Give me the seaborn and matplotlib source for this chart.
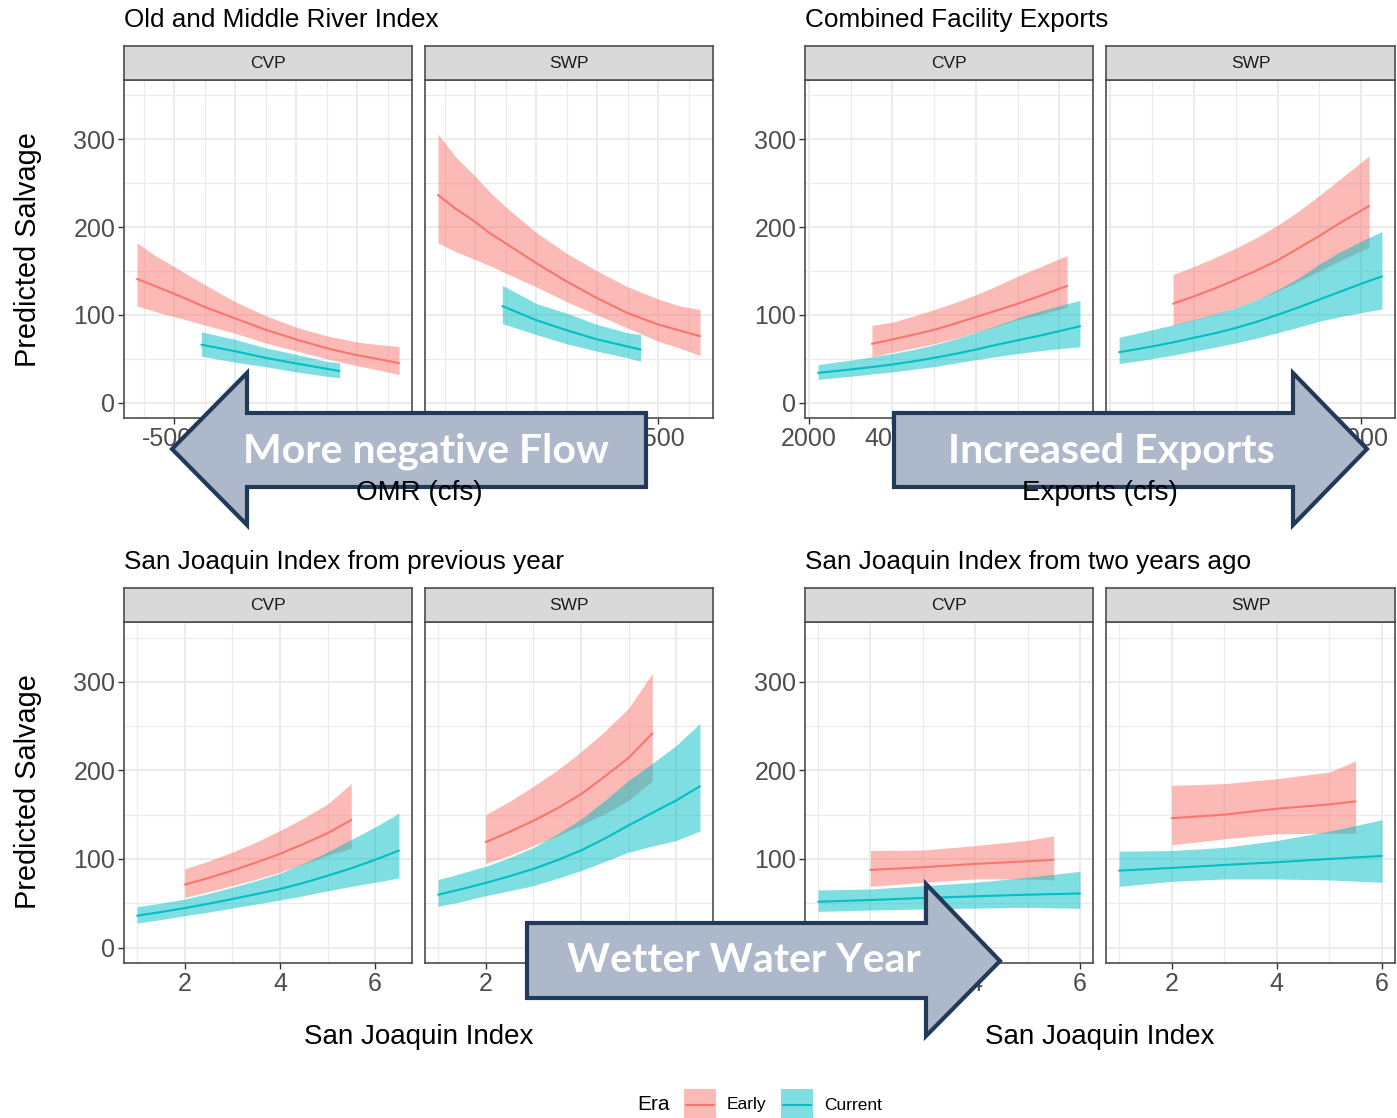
import numpy as np
import pandas as pd
import matplotlib
matplotlib.use("Agg")
import matplotlib.pyplot as plt
import seaborn as sns
from matplotlib.patches import Polygon, Rectangle
from matplotlib.lines import Line2D

# ---------------------------------------------------------------------------
# Model predictions (fit with lower / upper confidence bounds)
# ---------------------------------------------------------------------------
facilities = ["CVP", "SWP"]
eras = ["Early", "Current"]

# Old and Middle River index (cfs)
omr_early_x = [-6520, -5800, -5000, -4400, -3750, -2500, -1250, 0, 1250, 2500, 3400, 4220]
omr_current_x = [-3880, -2500, -1250, 0, 1250, 1780]
omr_cvp_early_fit = [141, 133, 124, 117, 109, 96, 83, 72, 62, 54, 49.5, 45]
omr_cvp_early_lo = [110, 104, 98, 93.5, 88.5, 79, 68, 59, 50, 42, 37, 32]
omr_cvp_early_hi = [182, 168, 155, 145, 134.5, 115, 99, 86, 76, 69, 66, 64]
omr_cvp_current_fit = [66, 58.6, 51, 44.6, 38.6, 36]
omr_cvp_current_lo = [53, 46, 41, 35, 30, 28.4]
omr_cvp_current_hi = [80.6, 72, 62.4, 55, 47, 45.4]
omr_swp_early_fit = [236.5, 221, 206, 193, 181.6, 159, 138, 119, 102, 89, 82, 75.7]
omr_swp_early_lo = [182, 172, 163, 156, 147.6, 132, 115, 100, 85, 70, 62, 53.7]
omr_swp_early_hi = [306, 280, 258, 240, 223, 194, 170, 150, 132, 118, 110, 106]
omr_swp_current_fit = [110, 94, 82.5, 72, 64, 60.5]
omr_swp_current_lo = [90, 77.6, 67, 58.6, 51, 47.3]
omr_swp_current_hi = [133.5, 113, 102, 89, 79.5, 77.6]

# Combined facility exports (cfs)
exp_early_x = [3510, 4000, 4500, 5000, 5500, 6000, 6500, 7000, 7500, 8185]
exp_current_x = [2220, 2600, 3000, 3500, 4000, 4500, 5000, 5500, 6000, 6500, 7000, 7500, 8000, 8490]
exp_cvp_early_fit = [67, 72, 77.3, 83, 90, 97.6, 105, 112.7, 121, 133]
exp_cvp_early_lo = [52, 57.5, 62, 67, 73, 80, 87, 94.6, 100, 108.6]
exp_cvp_early_hi = [88, 91.6, 98.5, 106, 114, 123, 133, 144, 154, 167.6]
exp_cvp_current_fit = [34, 35.8, 37.8, 40.5, 43.5, 47, 51, 55.5, 60.5, 66, 71, 76, 81.5, 87]
exp_cvp_current_lo = [26.5, 28.2, 30, 32.5, 35, 38, 41, 45, 49, 52.5, 56, 59, 61.5, 63.6]
exp_cvp_current_hi = [43.5, 45.8, 48.4, 52, 56, 60.5, 66, 72.5, 80, 88, 96.5, 104, 110.5, 116.5]
exp_swp_early_fit = [112.7, 121, 130, 140, 150.5, 162, 176, 190, 205, 224]
exp_swp_early_lo = [88, 94, 100.5, 108, 117, 127, 138, 150, 162, 177]
exp_swp_early_hi = [146, 155, 165, 176, 188, 202, 218, 236, 255, 281]
exp_swp_current_fit = [57.5, 60.5, 64, 68.6, 73.8, 79, 85, 92, 100, 108.5, 117.5, 126.5, 135.5, 143.8]
exp_swp_current_lo = [44.6, 47, 50, 54, 58.6, 63, 68, 73.5, 79.5, 86, 92.7, 98, 102.5, 106.7]
exp_swp_current_hi = [74.5, 78.5, 83, 88.5, 94.6, 101, 108, 117, 128.6, 142, 158, 172, 184, 195]

# San Joaquin Index, previous year
sj1_early_x = [2, 2.5, 3, 3.5, 4, 4.5, 5, 5.5]
sj1_current_x = [1, 1.5, 2, 2.5, 3, 3.5, 4, 4.5, 5, 5.5, 6, 6.5]
sj1_cvp_early_fit = [71, 78.5, 86.8, 96, 105.7, 117, 129, 144]
sj1_cvp_early_lo = [56.6, 63, 69.8, 77, 85, 94, 104, 112]
sj1_cvp_early_hi = [88.7, 97.5, 107.6, 119, 132, 146, 162, 185]
sj1_cvp_current_fit = [35.9, 40, 44.5, 49.4, 54.7, 60.2, 66, 73, 81, 89.5, 99, 109.5]
sj1_cvp_current_lo = [27.6, 31.5, 35.9, 40, 44.5, 49, 53.6, 58.5, 64, 69, 73.6, 78.5]
sj1_cvp_current_hi = [46, 50, 54.7, 61, 68, 75.5, 83.8, 95, 108, 122, 136, 151.8]
sj1_swp_early_fit = [119, 130.5, 143, 157, 173, 193, 214, 241.6]
sj1_swp_early_lo = [95, 104, 115, 126, 138, 151, 166, 188]
sj1_swp_early_hi = [150, 165, 182, 200, 221, 244, 270, 309.5]
sj1_swp_current_fit = [59.6, 66, 72.9, 80.5, 88.7, 98.5, 109.5, 123, 137.8, 152, 166, 182]
sj1_swp_current_lo = [46.4, 52, 58.5, 64, 69.8, 78, 86.8, 97, 107.6, 114.5, 120.8, 131.4]
sj1_swp_current_hi = [76.6, 84, 91.7, 101.5, 113, 128, 145, 166, 188.7, 208, 228, 253]

# San Joaquin Index, two years ago
sj2_early_x = [2, 3, 4, 5, 5.5]
sj2_current_x = [1, 2, 3, 4, 5, 6]
sj2_cvp_early_fit = [87.6, 90.6, 94.4, 97.4, 99]
sj2_cvp_early_lo = [69, 73.6, 77.4, 77.4, 76.3]
sj2_cvp_early_hi = [109.5, 110, 115, 121, 126]
sj2_cvp_current_fit = [51.7, 53.6, 55.9, 57.8, 59.6, 61]
sj2_cvp_current_lo = [40.8, 42.3, 43.4, 44.5, 45.3, 44.2]
sj2_cvp_current_hi = [65, 66, 69.8, 73.6, 79.3, 86]
sj2_swp_early_fit = [146, 150, 156.7, 161.6, 165]
sj2_swp_early_lo = [116, 122.7, 128.4, 129, 129]
sj2_swp_early_hi = [183, 185, 190.6, 198, 210.6]
sj2_swp_current_fit = [86.8, 89.8, 93.2, 96.3, 100, 103.4]
sj2_swp_current_lo = [69, 74.7, 77.4, 77.4, 76.3, 73.6]
sj2_swp_current_hi = [108.7, 109.5, 113, 120.8, 131.4, 144.2]

# Panel titles, axis titles and tick breaks
group_titles = ["Old and Middle River Index", "Combined Facility Exports",
                "San Joaquin Index from previous year",
                "San Joaquin Index from two years ago"]
group_xlabels = ["OMR (cfs)", "Exports (cfs)", "San Joaquin Index", "San Joaquin Index"]
omr_breaks = [-5000, -2500, 0, 2500]
exp_breaks = [2000, 4000, 6000, 8000]
sj_breaks = [2, 4, 6]
y_breaks = [0, 100, 200, 300]

# ---------------------------------------------------------------------------
# Long table of all curves
# ---------------------------------------------------------------------------
series = {
    ("omr", "CVP", "Early"): (omr_early_x, omr_cvp_early_fit, omr_cvp_early_lo, omr_cvp_early_hi),
    ("omr", "CVP", "Current"): (omr_current_x, omr_cvp_current_fit, omr_cvp_current_lo, omr_cvp_current_hi),
    ("omr", "SWP", "Early"): (omr_early_x, omr_swp_early_fit, omr_swp_early_lo, omr_swp_early_hi),
    ("omr", "SWP", "Current"): (omr_current_x, omr_swp_current_fit, omr_swp_current_lo, omr_swp_current_hi),
    ("exp", "CVP", "Early"): (exp_early_x, exp_cvp_early_fit, exp_cvp_early_lo, exp_cvp_early_hi),
    ("exp", "CVP", "Current"): (exp_current_x, exp_cvp_current_fit, exp_cvp_current_lo, exp_cvp_current_hi),
    ("exp", "SWP", "Early"): (exp_early_x, exp_swp_early_fit, exp_swp_early_lo, exp_swp_early_hi),
    ("exp", "SWP", "Current"): (exp_current_x, exp_swp_current_fit, exp_swp_current_lo, exp_swp_current_hi),
    ("sj1", "CVP", "Early"): (sj1_early_x, sj1_cvp_early_fit, sj1_cvp_early_lo, sj1_cvp_early_hi),
    ("sj1", "CVP", "Current"): (sj1_current_x, sj1_cvp_current_fit, sj1_cvp_current_lo, sj1_cvp_current_hi),
    ("sj1", "SWP", "Early"): (sj1_early_x, sj1_swp_early_fit, sj1_swp_early_lo, sj1_swp_early_hi),
    ("sj1", "SWP", "Current"): (sj1_current_x, sj1_swp_current_fit, sj1_swp_current_lo, sj1_swp_current_hi),
    ("sj2", "CVP", "Early"): (sj2_early_x, sj2_cvp_early_fit, sj2_cvp_early_lo, sj2_cvp_early_hi),
    ("sj2", "CVP", "Current"): (sj2_current_x, sj2_cvp_current_fit, sj2_cvp_current_lo, sj2_cvp_current_hi),
    ("sj2", "SWP", "Early"): (sj2_early_x, sj2_swp_early_fit, sj2_swp_early_lo, sj2_swp_early_hi),
    ("sj2", "SWP", "Current"): (sj2_current_x, sj2_swp_current_fit, sj2_swp_current_lo, sj2_swp_current_hi),
}
frames = []
for (grp, fac, era), (xs, fit, lo, hi) in series.items():
    frames.append(pd.DataFrame({"group": grp, "Facility": fac, "Era": era,
                                "x": xs, "fit": fit, "lo": lo, "hi": hi}))
df = pd.concat(frames, ignore_index=True)

# ---------------------------------------------------------------------------
# Style
# ---------------------------------------------------------------------------
sns.set_theme(style="white")
plt.rcParams["font.family"] = ["Liberation Sans", "DejaVu Sans"]
plt.rcParams["axes.unicode_minus"] = False

palette = {"Early": "#F8766D", "Current": "#00BFC4"}
W, H = 1397, 1118
fig = plt.figure(figsize=(W / 100, H / 100), dpi=100)
fig.patch.set_facecolor("white")


def rect(x0, y0, x1, y1):
    return [x0 / W, 1 - y1 / H, (x1 - x0) / W, (y1 - y0) / H]


def minor_between(breaks, lo, hi):
    step = breaks[1] - breaks[0]
    ext = [breaks[0] - step] + list(breaks) + [breaks[-1] + step]
    mids = [(a + b) / 2 for a, b in zip(ext[:-1], ext[1:])]
    return [m for m in mids if lo <= m <= hi]


groups = [
    dict(key="omr", cols=((124, 412), (425, 713)), rows=(46, 80, 418), xlim=(-7050, 4750),
         breaks=omr_breaks, title=group_titles[0], xlabel=group_xlabels[0],
         title_xy=(124, 20), ylab_y=250, xlab_xy=(419, 493)),
    dict(key="exp", cols=((805, 1093), (1106, 1395)), rows=(46, 80, 418), xlim=(1907, 8803),
         breaks=exp_breaks, title=group_titles[1], xlabel=group_xlabels[1],
         title_xy=(805, 20), ylab_y=None, xlab_xy=(1100, 493)),
    dict(key="sj1", cols=((124, 412), (425, 713)), rows=(588, 622, 963), xlim=(0.725, 6.775),
         breaks=sj_breaks, title=group_titles[2], xlabel=group_xlabels[2],
         title_xy=(124, 562), ylab_y=792, xlab_xy=(419, 1037)),
    dict(key="sj2", cols=((805, 1093), (1106, 1395)), rows=(588, 622, 963), xlim=(0.75, 6.25),
         breaks=sj_breaks, title=group_titles[3], xlabel=group_xlabels[3],
         title_xy=(805, 562), ylab_y=None, xlab_xy=(1100, 1037)),
]

ylim = (-17.5, 367.5)
border = "#4D4D4D"

for g in groups:
    s0, s1, p1 = g["rows"]
    for i, (fac, (x0, x1)) in enumerate(zip(facilities, g["cols"])):
        ax = fig.add_axes(rect(x0, s1, x1, p1))
        sub = df[(df["group"] == g["key"]) & (df["Facility"] == fac)]
        # ribbons: Early first, Current on top
        for era in eras:
            d = sub[sub["Era"] == era]
            ax.fill_between(d["x"], d["lo"], d["hi"], color=palette[era],
                            alpha=0.5, lw=0, zorder=2)
        sns.lineplot(data=sub, x="x", y="fit", hue="Era", hue_order=eras,
                     palette=palette, ax=ax, legend=False, lw=1.5,
                     estimator=None, zorder=3)
        ax.set_xlim(*g["xlim"])
        ax.set_ylim(*ylim)
        ax.set_xticks(g["breaks"])
        ax.set_xticks(minor_between(g["breaks"], *g["xlim"]), minor=True)
        ax.set_yticks(y_breaks)
        ax.set_yticks([50, 150, 250, 350], minor=True)
        ax.set_axisbelow(True)
        ax.grid(which="major", color="#EBEBEB", lw=1.5)
        ax.grid(which="minor", color="#EBEBEB", lw=0.9)
        ax.set_xlabel("")
        ax.set_ylabel("")
        ax.set_facecolor("white")
        for sp in ax.spines.values():
            sp.set_color(border)
            sp.set_linewidth(1.2)
        ax.tick_params(which="major", length=4.3, width=1.0, color="#333333",
                       labelsize=18, labelcolor="#4D4D4D", pad=2,
                       bottom=True, left=(i == 0), labelleft=(i == 0))
        ax.tick_params(which="minor", length=0)
        # facet strip
        st = fig.add_axes(rect(x0, s0, x1, s1))
        st.set_facecolor("#D9D9D9")
        st.set_xticks([])
        st.set_yticks([])
        for sp in st.spines.values():
            sp.set_color(border)
            sp.set_linewidth(1.2)
        st.text(0.5, 0.5, fac, ha="center", va="center", fontsize=12.5,
                color="#1A1A1A", transform=st.transAxes)

# ---------------------------------------------------------------------------
# Text, legend and annotation arrows on a full-figure overlay
# ---------------------------------------------------------------------------
ov = fig.add_axes([0, 0, 1, 1], zorder=10)
ov.set_xlim(0, W)
ov.set_ylim(H, 0)
ov.axis("off")
ov.patch.set_alpha(0)

for g in groups:
    ov.text(*g["title_xy"], g["title"], ha="left", va="center", fontsize=18.8, color="black")
    ov.text(*g["xlab_xy"], g["xlabel"], ha="center", va="center", fontsize=20, color="black")
    if g["ylab_y"] is not None:
        ov.text(28, g["ylab_y"], "Predicted Salvage", ha="center", va="center",
                rotation=90, fontsize=20.8, color="black")

# legend
ov.text(637, 1105, "Era", ha="left", va="center", fontsize=15, color="black")
for (kx, lx, era) in [(684, 727, "Early"), (781, 824, "Current")]:
    ov.add_patch(Rectangle((kx, 1089), 32, 32, facecolor=palette[era], alpha=0.5, lw=0))
    ov.add_line(Line2D([kx + 2, kx + 30], [1105, 1105], color=palette[era], lw=1.5))
    ov.text(lx, 1105, era, ha="left", va="center", fontsize=12.5, color="black")

arrow_fill = "#ADB9CA"
arrow_edge = "#213A59"
arrows = [
    ([(172, 449), (247, 373), (247, 413), (646, 413), (646, 487), (247, 487), (247, 525)],
     "More negative Flow", (426, 451)),
    ([(894, 413), (1293, 413), (1293, 373), (1367, 449), (1293, 525), (1293, 487), (894, 487)],
     "Increased Exports", (1111, 451)),
    ([(527, 923), (926, 923), (926, 884), (1000, 961), (926, 1036), (926, 998), (527, 998)],
     "Wetter Water Year", (744, 961)),
]
for pts, label, (tx, ty) in arrows:
    ov.add_patch(Polygon(pts, closed=True, facecolor=arrow_fill, edgecolor=arrow_edge,
                         lw=3.0, joinstyle="miter"))
    ov.text(tx, ty, label, ha="center", va="center", fontsize=29.5, fontweight="bold",
            family=["Lato", "DejaVu Sans"], color="white")

fig.savefig("out.png", dpi=100, facecolor="white")
